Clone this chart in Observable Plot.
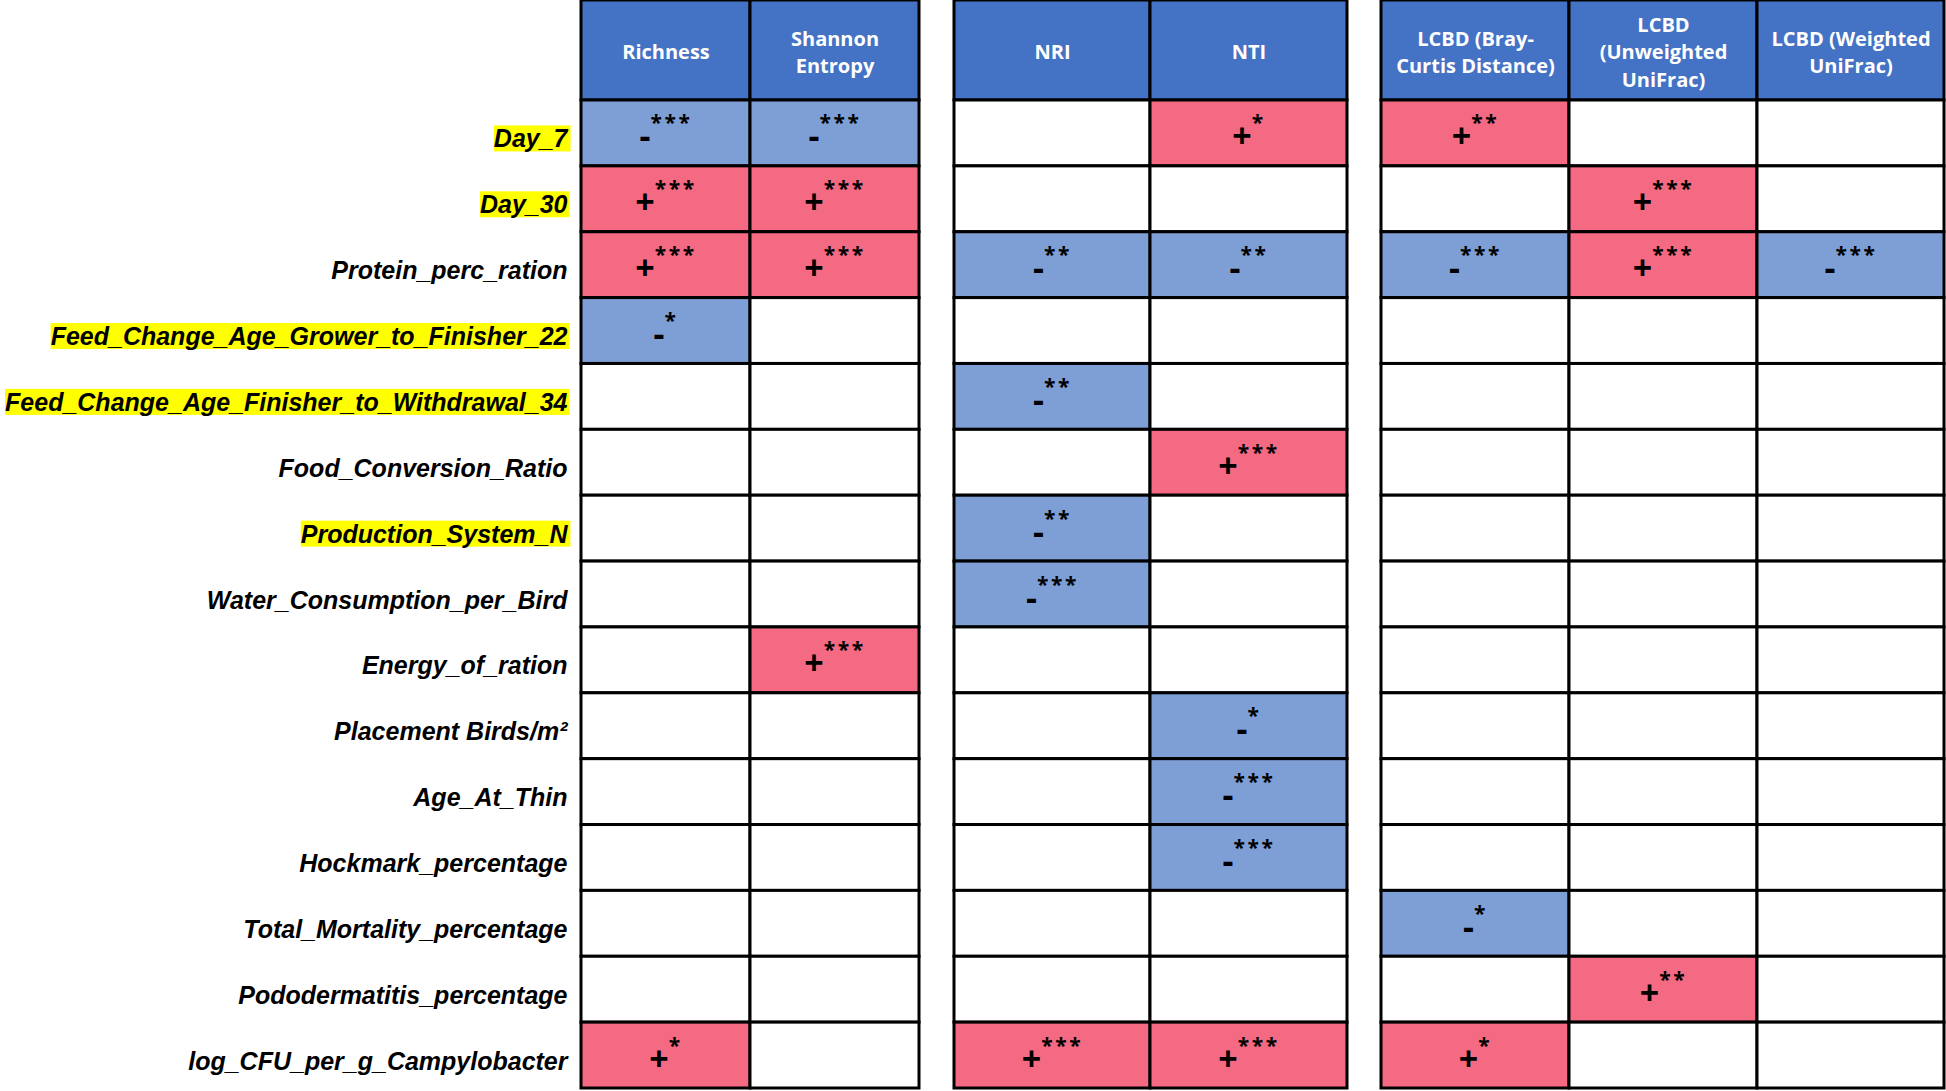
<!DOCTYPE html>
<html><head><meta charset="utf-8">
<script src="https://cdn.jsdelivr.net/npm/d3@7"></script>
<script src="https://cdn.jsdelivr.net/npm/@observablehq/plot@0.6"></script>
<style>html,body{margin:0;padding:0;background:#fff;} svg{display:block}</style>
</head><body><div id="chart"></div>
<script>
// ---------- data ----------
const rows = [
  "Day_7","Day_30","Protein_perc_ration","Feed_Change_Age_Grower_to_Finisher_22",
  "Feed_Change_Age_Finisher_to_Withdrawal_34","Food_Conversion_Ratio","Production_System_N",
  "Water_Consumption_per_Bird","Energy_of_ration","Placement Birds/m²","Age_At_Thin",
  "Hockmark_percentage","Total_Mortality_percentage","Pododermatitis_percentage",
  "log_CFU_per_g_Campylobacter"
];
const highlighted = ["Day_7","Day_30","Feed_Change_Age_Grower_to_Finisher_22",
  "Feed_Change_Age_Finisher_to_Withdrawal_34","Production_System_N"];
const columns = ["Richness","Shannon Entropy","NRI","NTI","LCBD (Bray-Curtis Distance)",
  "LCBD (Unweighted UniFrac)","LCBD (Weighted UniFrac)"];
const headerLabels = ["Richness","Shannon\nEntropy","NRI","NTI","LCBD (Bray-\nCurtis Distance)",
  "LCBD\n(Unweighted\nUniFrac)","LCBD (Weighted\nUniFrac)"];
const richness       = ["-***","+***","+***","-*","","","","","","","","","","","+*"];
const shannon        = ["-***","+***","+***","","","","","","+***","","","","","",""];
const nri            = ["","","-**","","-**","","-**","-***","","","","","","","+***"];
const nti            = ["+*","","-**","","","+***","","","","-*","-***","-***","","","+***"];
const lcbdBray       = ["+**","","-***","","","","","","","","","","-*","","+*"];
const lcbdUnweighted = ["","+***","+***","","","","","","","","","","","+**",""];
const lcbdWeighted   = ["","","-***","","","","","","","","","","","",""];
const series = [richness, shannon, nri, nti, lcbdBray, lcbdUnweighted, lcbdWeighted];

// ---------- layout ----------
const W = 1946, H = 1091;
const tableLeft = 581, tableBottom = 1088, headerH = 100, labelRight = 567;
const colWidths = [169,169,196,197,188,188,187];
const gapBefore = [0,0,35,0,34,0,0];
const rowH = (tableBottom - headerH) / rows.length;
const headerUnits = headerH / rowH;
const colX = [];
{ let x = tableLeft;
  colWidths.forEach((w, i) => { x += gapBefore[i]; colX.push([x, x + w]); x += w; }); }

const headerCells = columns.map((c, i) => ({col: c, label: headerLabels[i], x1: colX[i][0], x2: colX[i][1]}));
const cells = [];
columns.forEach((c, ci) => series[ci].forEach((e, ri) => cells.push({
  col: c, row: rows[ri], r: ri, effect: e, sign: e === "" ? "none" : e[0],
  x1: colX[ci][0], x2: colX[ci][1]
})));

const chart = Plot.plot({
  width: W, height: H,
  marginLeft: 0, marginRight: 0, marginTop: 0, marginBottom: 0,
  style: {background: "white"},
  x: {domain: [0, W], range: [0, W], axis: null},
  y: {domain: [-headerUnits, rows.length], range: [0, tableBottom], axis: null},
  color: {domain: ["+", "-", "none"], range: ["#F56A83", "#7E9FD6", "#FFFFFF"]},
  marks: [
    Plot.rect(headerCells, {x1: "x1", x2: "x2", y1: () => -headerUnits, y2: () => 0,
      fill: "#4472C4", stroke: "black", strokeWidth: 3}),
    Plot.rect(cells, {x1: "x1", x2: "x2", y1: d => d.r, y2: d => d.r + 1,
      fill: "sign", stroke: "black", strokeWidth: 3}),
    Plot.text(headerCells, {x: d => (d.x1 + d.x2) / 2, y: () => -headerUnits / 2, text: "label",
      fill: "white", fontSize: 20, fontWeight: "bold", fontFamily: "Open Sans", lineHeight: 1.375}),
    Plot.text(rows, {x: () => labelRight, y: (d, i) => i + 0.5, text: d => d, textAnchor: "end",
      fontSize: 25, fontWeight: "bold", fontStyle: "italic", fontFamily: "Liberation Sans, Arial, sans-serif",
      fill: "black", dy: 6}),
    Plot.text(cells.filter(d => d.effect !== ""), {x: d => (d.x1 + d.x2) / 2, y: d => d.r + 0.5,
      text: "effect", lineAnchor: "bottom", dy: 15, fontFamily: "Open Sans", fontWeight: "bold", fill: "black"})
  ]
});
document.getElementById("chart").appendChild(chart);

const textGroups = chart.querySelectorAll('g[aria-label="text"]');
// row label highlights
d3.select(textGroups[1]).selectAll("text").each(function() {
  if (!highlighted.includes(this.textContent)) return;
  const b = this.getBBox();
  const rect = document.createElementNS("http://www.w3.org/2000/svg", "rect");
  rect.setAttribute("x", b.x); rect.setAttribute("y", b.y + 1);
  rect.setAttribute("width", b.width + 2); rect.setAttribute("height", b.height - 2);
  rect.setAttribute("fill", "#FFFF00");
  if (this.getAttribute("transform")) rect.setAttribute("transform", this.getAttribute("transform"));
  this.parentNode.insertBefore(rect, this);
});
// sign + superscript stars
d3.select(textGroups[2]).selectAll("text").each(function() {
  const s = this.textContent;
  const t = d3.select(this);
  t.text(null);
  t.append("tspan").attr("font-size", 34).text(s[0]);
  t.append("tspan").attr("font-size", 21).attr("dy", -18).attr("letter-spacing", 2.5).text(s.slice(1));
});
</script>
</body></html>
